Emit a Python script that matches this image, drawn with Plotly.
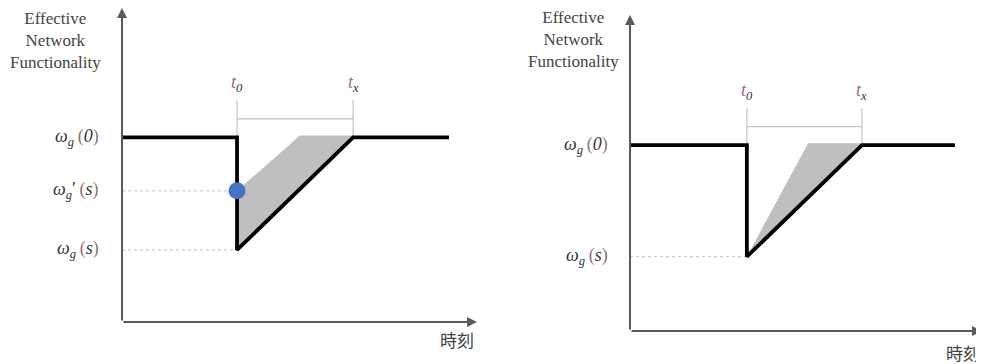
import plotly.graph_objects as go

# ---------------- data (time units 0..10, functionality units 0..1.7) ----------------
# Left panel: recovery curve with partial recovery point w'(s)
L_time = [0.0, 3.24, 3.24, 6.51, 9.21]
L_func = [1.0, 1.0, 0.39, 1.0, 1.0]
L_fill_time = [3.24, 5.01, 6.51, 3.24, 3.24]
L_fill_func = [0.71, 1.01, 1.01, 0.39, 0.71]
L_point = (3.24, 0.71)
L_t0, L_tx = 3.24, 6.51
L_ws, L_wps = 0.39, 0.71

# Right panel
R_time = [0.0, 3.32, 3.32, 6.59, 9.23]
R_func = [1.0, 1.0, 0.40, 1.0, 1.0]
R_fill_time = [3.32, 5.06, 6.59, 3.32]
R_fill_func = [0.40, 1.01, 1.01, 0.40]
R_t0, R_tx = 3.32, 6.59
R_ws = 0.40

W0 = 1.0
BRACKET_Y = 1.10
BRACKET_TOP = 1.20
TLABEL_Y = 1.29
X_MAX = 10.0
Y_MAX = 1.70

y_title = "Effective<br>Network<br>Functionality"
x_title = "時刻"

PAREN = "#9c7070"
MATHC = "#333333"

# page body has an 8px margin -> figure is sized to the visible area
FW, FH = 976, 356


def w_label(arg, prime=False):
    p = "′" if prime else ""
    return (f"<i>ω</i><sub><i>g</i></sub>{p}\u2009<span style='color:{PAREN}'>(</span>"
            f"<i>{arg}</i><span style='color:{PAREN}'>)</span>")


fig = go.Figure()

GRAY_FILL = "#bfbfbf"
LIGHT = "#c4c4c4"
AXC = "#5a5a5a"


def panel(xa, ya, time, func, ftime, ffunc, t0, tx, ws, wps=None, point=None):
    xr, yr = xa, ya
    fig.add_trace(go.Scatter(x=ftime, y=ffunc, xaxis=xr, yaxis=yr, mode="lines",
                             fill="toself", fillcolor=GRAY_FILL, line=dict(width=0),
                             hoverinfo="skip", showlegend=False))
    for lv in [ws] + ([wps] if wps is not None else []):
        fig.add_trace(go.Scatter(x=[0, t0], y=[lv, lv], xaxis=xr, yaxis=yr, mode="lines",
                                 line=dict(color=LIGHT, width=1, dash="dot"),
                                 hoverinfo="skip", showlegend=False))
    for tt in [t0, tx]:
        fig.add_trace(go.Scatter(x=[tt, tt], y=[W0, BRACKET_TOP], xaxis=xr, yaxis=yr,
                                 mode="lines", line=dict(color=LIGHT, width=1.2),
                                 hoverinfo="skip", showlegend=False))
    fig.add_trace(go.Scatter(x=[t0, tx], y=[BRACKET_Y, BRACKET_Y], xaxis=xr, yaxis=yr,
                             mode="lines", line=dict(color=LIGHT, width=1.2),
                             hoverinfo="skip", showlegend=False))
    fig.add_trace(go.Scatter(x=time, y=func, xaxis=xr, yaxis=yr, mode="lines",
                             line=dict(color="black", width=3.8), cliponaxis=False,
                             hoverinfo="skip", showlegend=False))
    if point is not None:
        fig.add_trace(go.Scatter(x=[point[0]], y=[point[1]], xaxis=xr, yaxis=yr,
                                 mode="markers", cliponaxis=False,
                                 marker=dict(color="#4472C4", size=17),
                                 hoverinfo="skip", showlegend=False))
    fig.add_annotation(x=X_MAX, y=0, ax=0, ay=0, xref=xr, yref=yr, axref=xr, ayref=yr,
                       showarrow=True, arrowhead=2, arrowsize=1, arrowwidth=2,
                       arrowcolor=AXC, text="")
    fig.add_annotation(x=0, y=Y_MAX, ax=0, ay=0, xref=xr, yref=yr, axref=xr, ayref=yr,
                       showarrow=True, arrowhead=2, arrowsize=1, arrowwidth=2,
                       arrowcolor=AXC, text="")
    for tt, lab in [(t0, "0"), (tx, "x")]:
        fig.add_annotation(x=tt, y=TLABEL_Y, xref=xr, yref=yr, showarrow=False,
                           text=f"<i><span style='color:{PAREN}'>t</span></i><sub><i>{lab}</i></sub>",
                           font=dict(family="Liberation Serif", size=18, color=MATHC))


panel("x", "y", L_time, L_func, L_fill_time, L_fill_func, L_t0, L_tx, L_ws, L_wps, L_point)
panel("x2", "y2", R_time, R_func, R_fill_time, R_fill_func, R_t0, R_tx, R_ws)

math_font = dict(family="Liberation Serif", size=18, color=MATHC)
for yref, xr_px, items in [
    ("y", 93, [(W0, w_label("0")), (L_wps, w_label("s", True)), (L_ws, w_label("s"))]),
    ("y2", 602, [(W0, w_label("0")), (R_ws, w_label("s"))]),
]:
    for yv, txt in items:
        fig.add_annotation(x=xr_px / FW, y=yv, xref="paper", yref=yref, text=txt,
                           showarrow=False, xanchor="right", yanchor="middle",
                           font=math_font)

for cx, cy in [(47, 32), (565, 31)]:
    fig.add_annotation(x=cx / FW, y=1 - cy / FH, xref="paper", yref="paper",
                       text=y_title, showarrow=False, xanchor="center", yanchor="middle",
                       font=dict(family="Liberation Serif", size=17, color="#444"))
for cx, cy in [(449, 331), (955, 344)]:
    fig.add_annotation(x=cx / FW, y=1 - cy / FH, xref="paper", yref="paper",
                       text=x_title, showarrow=False, xanchor="center", yanchor="middle",
                       font=dict(family="Noto Sans CJK JP", size=17, color="#444"))

ax_common = dict(showgrid=False, zeroline=False, showticklabels=False, ticks="",
                 showline=False, fixedrange=True)
fig.update_layout(
    width=FW, height=FH,
    margin=dict(l=0, r=0, t=0, b=0),
    paper_bgcolor="white", plot_bgcolor="rgba(0,0,0,0)",
    xaxis=dict(domain=[114 / FW, 469 / FW], range=[0, X_MAX], **ax_common),
    yaxis=dict(domain=[(FH - 314) / FH, 1.0], range=[0, Y_MAX], **ax_common),
    xaxis2=dict(domain=[622 / FW, 974 / FW], range=[0, X_MAX], anchor="y2", **ax_common),
    yaxis2=dict(domain=[(FH - 323) / FH, (FH - 7) / FH], range=[0, Y_MAX], anchor="x2",
                **ax_common),
    showlegend=False,
)

fig.write_html("out.html")
